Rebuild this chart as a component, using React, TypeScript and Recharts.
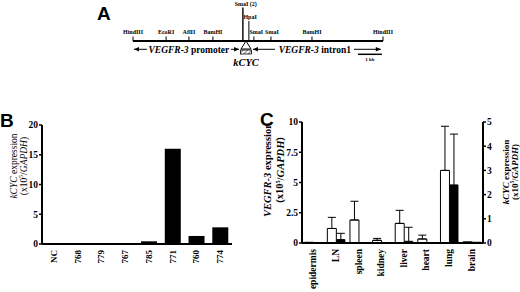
import React from 'react';
import { ComposedChart, BarChart, Bar, XAxis, YAxis, ReferenceLine, Scatter, ErrorBar } from 'recharts';

const SERIF = '"Liberation Serif", "Times New Roman", serif';
const SANS = '"Liberation Sans", Arial, sans-serif';

// ---------- Panel A: restriction map (positions in kb) ----------
const siteNames = ['HindIII', 'EcoRI', 'AflII', 'BamHI', 'SmaI (2)', 'HpaI', 'SmaI', 'SmaI', 'BamHI', 'HindIII'];
const sitePositionsKb = [0, 1.38, 2.33, 3.33, 4.58, 4.83, 5.04, 5.75, 7.46, 10.42];
const siteTickTops = [0.9, 0.9, 0.9, 0.9, 6.7, 4.0, 0.9, 0.9, 0.9, 0.9];
const siteLabelLevels = [1.4, 1.4, 1.4, 1.4, 7.1, 4.4, 1.4, 1.4, 1.4, 1.4];
const siteLabelShiftKb = [0, 0, 0, 0, 0.12, 0.05, 0.1, 0.04, 0, 0];
const mapLengthKb = 10.42;
const arrowFromKb = [0.58, 4.08, 5.92, 9.21];
const arrowToKb = [0.04, 4.42, 5.0, 10.33];
const arrowLevel = -1.66;
const regionNames = ['promoter', 'intron1'];
const regionCentersKb = [2.33, 7.58];
const regionLevel = -2.3;
const insertPositionKb = 4.71;
const insertLabel = 'kCYC';
const insertLabelLevel = -5.0;
const scaleBarKb = [9.375, 10.375];
const scaleBarLevel = -2.66;
const scaleBarLabel = '1 kb';

// ---------- Panel B ----------
const bLines = ['NC', '768', '779', '767', '785', '771', '760', '774'];
const bKcyc = [0, 0, 0, 0, 0.45, 16, 1.35, 2.8];
const bTicks = [0, 5, 10, 15, 20];

// ---------- Panel C ----------
const tissues = ['epidermis', 'LN', 'spleen', 'kidney', 'liver', 'heart', 'lung', 'brain'];
const vegfrMean = [0.06, 1.2, 1.9, 0.22, 1.62, 0.33, 6.0, 0.1];
const vegfrUpper = [null, 2.12, 3.45, 0.38, 2.7, 0.65, 9.65, null];
const kcycMean = [0.03, 0.14, 0, 0.02, 0.07, 0, 2.4, 0.05];
const kcycUpper = [null, 0.4, 0.7, null, 0.65, 1.1, 4.5, null];
const cLeftTicks = [0, 2.5, 5, 7.5, 10];
const cRightTicks = [0, 1, 2, 3, 4, 5];

const bData = bLines.map((name, i) => ({ name, kcyc: bKcyc[i] }));
const cData = tissues.map((name, i) => ({
  name,
  vegfr: vegfrMean[i],
  vegfrErr: vegfrUpper[i] == null ? null : [0, (vegfrUpper[i] as number) - vegfrMean[i]],
  kcyc: kcycMean[i],
  kcycErr: kcycUpper[i] == null ? null : [0, (kcycUpper[i] as number) - kcycMean[i]],
}));

const siteLabelData = siteNames.map((text, i) => ({ x: sitePositionsKb[i] + siteLabelShiftKb[i], y: siteLabelLevels[i], text }));
const arrowHeadData = arrowToKb.map((x, i) => ({ x, y: arrowLevel, dir: x > arrowFromKb[i] ? 1 : -1 }));
const regionData = regionNames.map((text, i) => ({ x: regionCentersKb[i], y: regionLevel, text }));

const SiteLabel = (p: any) => (
  <text x={p.cx} y={p.cy} textAnchor="middle" fontSize={6} fontWeight="bold" fontFamily={SERIF} fill="#000">
    {p.payload.text}
  </text>
);
const ArrowHead = (p: any) => {
  const d = p.payload.dir;
  const x = p.cx, y = p.cy;
  return <polygon points={`${x},${y} ${x - d * 5},${y - 2.2} ${x - d * 5},${y + 2.2}`} fill="#000" />;
};
const RegionLabel = (p: any) => (
  <text x={p.cx} y={p.cy} textAnchor="middle" fontSize={9.5} fontWeight="bold" fontFamily={SERIF} fill="#000">
    <tspan fontStyle="italic">VEGFR-3</tspan> {p.payload.text}
  </text>
);
const Insert = (p: any) => {
  const x = p.cx, y = p.cy;
  return (
    <g>
      <polygon points={`${x},${y} ${x - 5},${y + 8} ${x + 5},${y + 8}`} fill="#fff" stroke="#000" strokeWidth={1} />
      <rect x={x - 5.5} y={y + 9} width={11} height={4} fill="url(#hatch)" stroke="#000" strokeWidth={0.8} />
    </g>
  );
};
const PlainLabel = (size: number, italic: boolean) => (p: any) => (
  <text x={p.cx} y={p.cy} textAnchor="middle" fontSize={size} fontWeight="bold" fontStyle={italic ? 'italic' : 'normal'} fontFamily={SERIF} fill="#000">
    {p.payload.text}
  </text>
);

const RotTick = (props: any) => {
  const { x, y, payload, size } = props;
  return (
    <text x={0} y={0} transform={`translate(${x},${y}) rotate(-90)`} textAnchor="end" dominantBaseline="central" fontSize={size || 9} fontWeight="bold" fontFamily={SERIF} fill="#000">
      {payload.value}
    </text>
  );
};

const tickStyle = { fill: '#000', fontSize: 9.5, fontWeight: 'bold', fontFamily: SERIF };
const axisLine = { stroke: '#000', strokeWidth: 2 };
const tickLine = { stroke: '#000', strokeWidth: 1.5 };

const YTitle = ({ x1, x2, y, size, bold, italicWord, rest }: any) => (
  <g fontFamily={SERIF} fontSize={size} fontWeight={bold ? 'bold' : 'normal'} fill="#000">
    <text transform={`translate(${x1},${y}) rotate(-90)`} textAnchor="middle" dominantBaseline="central">
      <tspan fontStyle="italic">{italicWord}</tspan>{rest}
    </text>
    <text transform={`translate(${x2},${y}) rotate(-90)`} textAnchor="middle" dominantBaseline="central">
      (x10<tspan dy={-3} fontSize={size * 0.6}>5</tspan><tspan dy={3}>/</tspan><tspan fontStyle="italic">GAPDH</tspan>)
    </text>
  </g>
);

export default function App() {
  return (
    <div style={{ position: 'absolute', left: 0, top: 0, width: 520, height: 292, background: '#fff', overflow: 'hidden' }}>
      <div style={{ position: 'absolute', left: 0, top: 0 }}>
        <ComposedChart width={520} height={72} margin={{ top: 1, right: 137, left: 133, bottom: 1 }}>
          <XAxis type="number" dataKey="x" domain={[0, mapLengthKb]} hide />
          <YAxis type="number" dataKey="y" domain={[-6, 8]} hide />
          <ReferenceLine segment={[{ x: 0, y: 0 }, { x: mapLengthKb, y: 0 }]} stroke="#000" strokeWidth={2} />
          {sitePositionsKb.map((x, i) => (
            <ReferenceLine key={'s' + i} segment={[{ x, y: 0 }, { x, y: siteTickTops[i] }]} stroke="#000" strokeWidth={i === 4 ? 1.4 : 1} />
          ))}
          {arrowFromKb.map((x, i) => (
            <ReferenceLine key={'a' + i} segment={[{ x, y: arrowLevel }, { x: arrowToKb[i], y: arrowLevel }]} stroke="#000" strokeWidth={1} />
          ))}
          <ReferenceLine segment={[{ x: scaleBarKb[0], y: scaleBarLevel }, { x: scaleBarKb[1], y: scaleBarLevel }]} stroke="#000" strokeWidth={1.5} />
          <Scatter data={siteLabelData} shape={SiteLabel} isAnimationActive={false} />
          <Scatter data={arrowHeadData} shape={ArrowHead} isAnimationActive={false} />
          <Scatter data={regionData} shape={RegionLabel} isAnimationActive={false} />
          <Scatter data={[{ x: insertPositionKb, y: 0 }]} shape={Insert} isAnimationActive={false} />
          <Scatter data={[{ x: insertPositionKb, y: insertLabelLevel, text: insertLabel }]} shape={PlainLabel(10.5, true)} isAnimationActive={false} />
          <Scatter data={[{ x: (scaleBarKb[0] + scaleBarKb[1]) / 2, y: -4.0, text: scaleBarLabel }]} shape={PlainLabel(5, false)} isAnimationActive={false} />
        </ComposedChart>
      </div>

      <div style={{ position: 'absolute', left: 0, top: 110 }}>
        <BarChart width={240} height={182} data={bData} margin={{ top: 15, right: 8, left: 12, bottom: 8 }} barCategoryGap="17%">
          <XAxis dataKey="name" interval={0} tickLine={false} tickSize={0} tickMargin={6} axisLine={axisLine} height={40} tick={<RotTick size={9} />} />
          <YAxis domain={[0, 20]} ticks={bTicks} interval={0} width={30} tickSize={3} tickMargin={1} tickLine={tickLine} axisLine={axisLine} tick={tickStyle} />
          <Bar dataKey="kcyc" fill="#000" isAnimationActive={false} />
        </BarChart>
      </div>

      <div style={{ position: 'absolute', left: 250, top: 110 }}>
        <BarChart width={270} height={182} data={cData} margin={{ top: 12, right: 7, left: 22, bottom: 4 }} barCategoryGap="12%" barGap={0}>
          <XAxis dataKey="name" interval={0} tickLine={false} tickSize={0} tickMargin={6} axisLine={axisLine} height={45} tick={<RotTick size={9.5} />} />
          <YAxis yAxisId="left" domain={[0, 10]} ticks={cLeftTicks} interval={0} width={30} tickSize={3} tickMargin={1} tickLine={tickLine} axisLine={axisLine} tick={tickStyle} />
          <YAxis yAxisId="right" orientation="right" domain={[0, 5]} ticks={cRightTicks} interval={0} width={30} tickSize={3} tickMargin={1} tickLine={tickLine} axisLine={axisLine} tick={tickStyle} />
          <Bar yAxisId="left" dataKey="vegfr" fill="#fff" stroke="#000" strokeWidth={1} isAnimationActive={false}>
            <ErrorBar dataKey="vegfrErr" direction="y" width={4} stroke="#000" strokeWidth={1} />
          </Bar>
          <Bar yAxisId="right" dataKey="kcyc" fill="#000" isAnimationActive={false}>
            <ErrorBar dataKey="kcycErr" direction="y" width={4} stroke="#000" strokeWidth={1} />
          </Bar>
        </BarChart>
      </div>

      <svg width={520} height={292} style={{ position: 'absolute', left: 0, top: 0, pointerEvents: 'none' }}>
        <defs>
          <pattern id="hatch" width={3} height={3} patternUnits="userSpaceOnUse" patternTransform="rotate(45)">
            <line x1={0} y1={0} x2={0} y2={3} stroke="#000" strokeWidth={1} />
          </pattern>
        </defs>
        <text x={97} y={20} fontFamily={SANS} fontWeight="bold" fontSize={19} fill="#000">A</text>
        <text x={0} y={127} fontFamily={SANS} fontWeight="bold" fontSize={19} fill="#000">B</text>
        <text x={260} y={126} fontFamily={SANS} fontWeight="bold" fontSize={19} fill="#000">C</text>
        <YTitle x1={13.5} x2={23.5} y={166} size={9.5} bold={false} italicWord="kCYC" rest=" expression" />
        <YTitle x1={267} x2={279.5} y={170} size={10.5} bold={true} italicWord="VEGFR-3" rest=" expression" />
        <YTitle x1={506} x2={515} y={172} size={9} bold={true} italicWord="kCYC" rest=" expression" />
      </svg>
    </div>
  );
}
